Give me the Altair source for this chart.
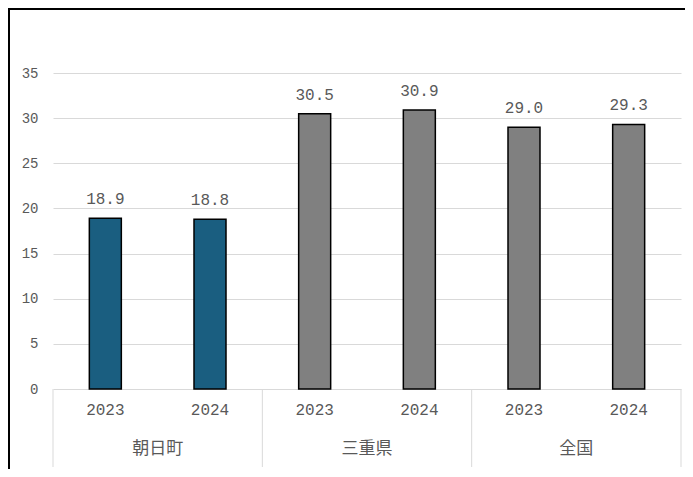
import altair as alt
import pandas as pd

regions = ["朝日町", "朝日町", "三重県", "三重県", "全国", "全国"]
years = ["2023", "2024", "2023", "2024", "2023", "2024"]
values = [18.9, 18.8, 30.5, 30.9, 29.0, 29.3]
y_ticks = [0, 5, 10, 15, 20, 25, 30, 35]
highlight_region = "朝日町"

df = pd.DataFrame({"region": regions, "year": years, "value": values})
df["key"] = df["region"] + "-" + df["year"]
df["color"] = ["#1a5e80" if r == highlight_region else "#808080" for r in regions]
df["label"] = df["value"].map(lambda v: f"{v:.1f}")
order = list(df["key"])

W, H = 628, 316
GRID = "#d9d9d9"
TXT = "#595959"
MONO = "Liberation Mono"
CJK = "Noto Sans CJK JP"

xscale = alt.Scale(domain=order, paddingInner=0, paddingOuter=0)


def X(band=0.5):
    return alt.X("key:N", sort=order, scale=xscale, axis=None, bandPosition=band)


base = alt.Chart(df)

bars = base.mark_bar(size=32, stroke="black", strokeWidth=1.5).encode(
    x=X(),
    y=alt.Y(
        "value:Q",
        scale=alt.Scale(domain=[0, 35], nice=False),
        axis=alt.Axis(
            values=y_ticks,
            grid=True,
            gridColor=GRID,
            gridWidth=1,
            domain=False,
            ticks=False,
            title=None,
            labelFont=MONO,
            labelFontSize=14,
            labelColor=TXT,
            labelPadding=15,
        ),
    ),
    color=alt.Color("color:N", scale=None, legend=None),
)

labels = base.mark_text(
    dy=-14, baseline="alphabetic", font=MONO, fontSize=16, color=TXT
).encode(x=X(), y="value:Q", text="label:N")

year_labels = base.mark_text(
    baseline="middle", font=MONO, fontSize=16, color=TXT
).encode(x=X(), y=alt.value(H + 21), text="year:N")

group_labels = (
    alt.Chart(df[df["year"] == "2024"])
    .mark_text(baseline="middle", font=CJK, fontSize=17, color=TXT)
    .encode(x=X(0), y=alt.value(H + 60), text="region:N")
)

sep_start = (
    alt.Chart(df[df["year"] == "2023"])
    .mark_rule(color=GRID, strokeWidth=1)
    .encode(x=X(0), y=alt.value(H), y2=alt.value(H + 78))
)
sep_end = (
    alt.Chart(df.iloc[[-1]])
    .mark_rule(color=GRID, strokeWidth=1)
    .encode(x=X(1), y=alt.value(H), y2=alt.value(H + 78))
)

frame = (
    alt.Chart(pd.DataFrame({"f": [0]}))
    .mark_rect(fillOpacity=0, stroke="black", strokeWidth=2)
    .encode(
        x=alt.value(-44),
        x2=alt.value(W + 40),
        y=alt.value(-64),
        y2=alt.value(H + 140),
    )
)

chart = (
    alt.layer(frame, sep_start, sep_end, bars, labels, year_labels, group_labels)
    .properties(
        width=W,
        height=H,
        padding={"left": 45, "top": 65, "right": 4, "bottom": 80},
        autosize="none",
    )
    .configure_view(stroke=None)
)

chart.save("out.html", embed_options={"renderer": "svg", "actions": False})
